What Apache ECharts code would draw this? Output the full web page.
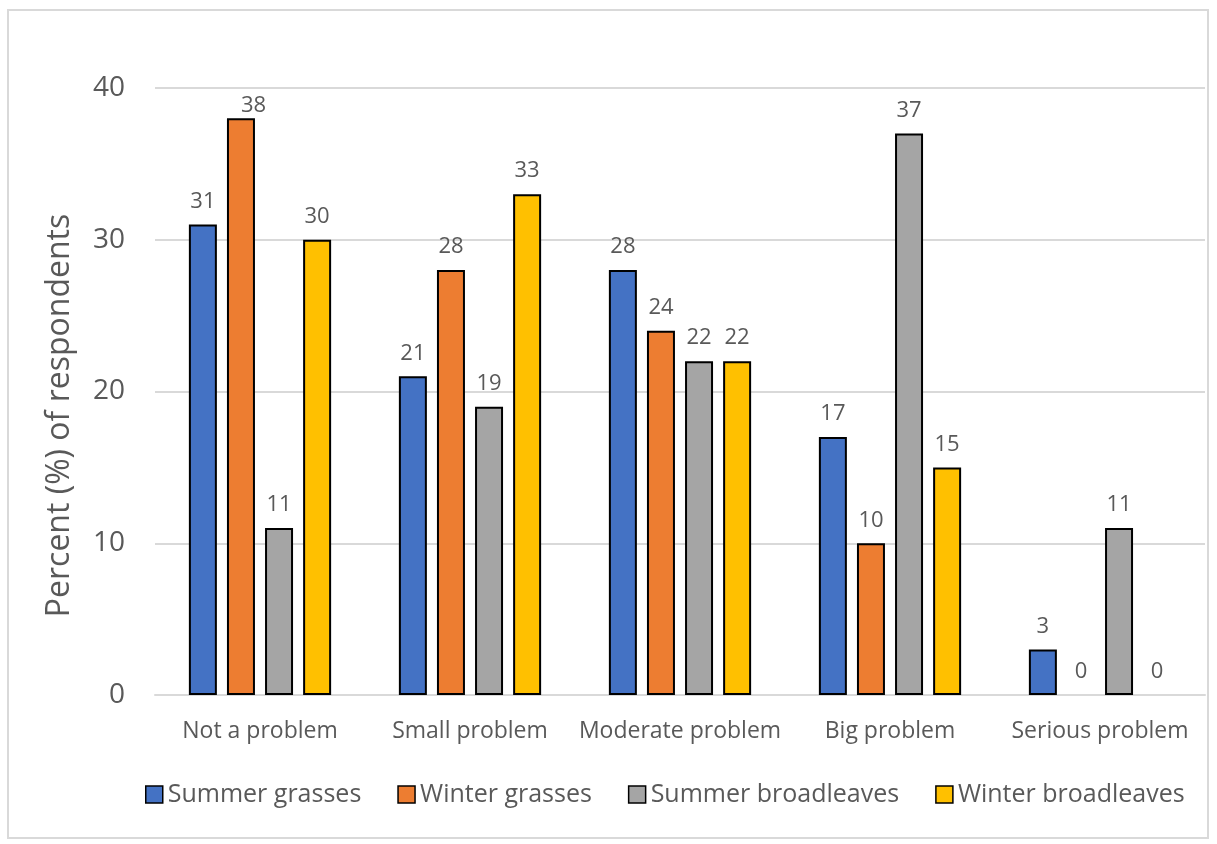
<!DOCTYPE html>
<html>
<head>
<meta charset="utf-8">
<script src="https://cdn.jsdelivr.net/npm/echarts@6/dist/echarts.min.js"></script>
<style>
  html, body { margin: 0; padding: 0; background: #fff; }
  #chart { width: 1217px; height: 844px; }
</style>
</head>
<body>
<div id="chart"></div>
<script>
// Survey: how much of a problem each weed group is
const categories = ['Not a problem', 'Small problem', 'Moderate problem', 'Big problem', 'Serious problem'];
const seriesNames = ['Summer grasses', 'Winter grasses', 'Summer broadleaves', 'Winter broadleaves'];
const summerGrasses = [31, 21, 28, 17, 3];
const winterGrasses = [38, 28, 24, 10, 0];
const summerBroadleaves = [11, 19, 22, 37, 11];
const winterBroadleaves = [30, 33, 22, 15, 0];
const yTicks = { min: 0, max: 40, interval: 10 };

const colors = ['#4472C4', '#ED7D31', '#A5A5A5', '#FFC000'];
const values = [summerGrasses, winterGrasses, summerBroadleaves, winterBroadleaves];
const font = '"Open Sans", sans-serif';
const textColor = '#595959';
const plotTop = 88;

const chart = echarts.init(document.getElementById('chart'));

const series = values.map((vals, i) => ({
  name: seriesNames[i],
  type: 'bar',
  // zero-height bars get no outline so nothing is drawn on the baseline
  data: vals.map(v => (v === 0 ? { value: v, itemStyle: { borderWidth: 0 } } : v)),
  barWidth: 28,
  barGap: '36%',
  itemStyle: { color: colors[i], borderColor: '#000', borderWidth: 2 },
  label: {
    show: true,
    position: 'top',
    distance: 12,
    color: textColor,
    fontFamily: font,
    fontSize: 22
  },
  // keep value labels inside the plot area
  labelLayout: function (p) {
    const r = p.labelRect;
    if (r.y < plotTop + 6) {
      return { y: plotTop + 7 };
    }
    return {};
  }
}));

chart.setOption({
  animation: false,
  color: colors,
  graphic: [{
    type: 'rect',
    shape: { x: 8, y: 10, width: 1200, height: 828 },
    style: { fill: 'none', stroke: '#d9d9d9', lineWidth: 2 },
    silent: true
  }],
  grid: { left: 155, right: 12, top: plotTop, bottom: 149 },
  legend: {
    data: seriesNames,
    bottom: 32,
    left: 140,
    itemWidth: 17,
    itemHeight: 17,
    itemGap: 36,
    icon: 'rect',
    itemStyle: { borderColor: '#000', borderWidth: 1.5 },
    textStyle: { color: textColor, fontFamily: font, fontSize: 25, padding: [0, 0, 0, 0] }
  },
  xAxis: {
    type: 'category',
    data: categories,
    axisLine: { lineStyle: { color: '#d9d9d9', width: 2 } },
    axisTick: { show: false },
    axisLabel: { color: textColor, fontFamily: font, fontSize: 23, margin: 25, interval: 0 }
  },
  yAxis: {
    type: 'value',
    min: yTicks.min,
    max: yTicks.max,
    interval: yTicks.interval,
    name: 'Percent (%) of respondents',
    nameLocation: 'middle',
    nameGap: 79,
    nameTextStyle: { color: textColor, fontFamily: font, fontSize: 32, padding: [0, 48, 0, 0] },
    axisLine: { show: false },
    axisTick: { show: false },
    axisLabel: { color: textColor, fontFamily: font, fontSize: 28, margin: 30 },
    splitLine: { lineStyle: { color: '#d9d9d9', width: 2 } }
  },
  series: series
});
</script>
</body>
</html>
